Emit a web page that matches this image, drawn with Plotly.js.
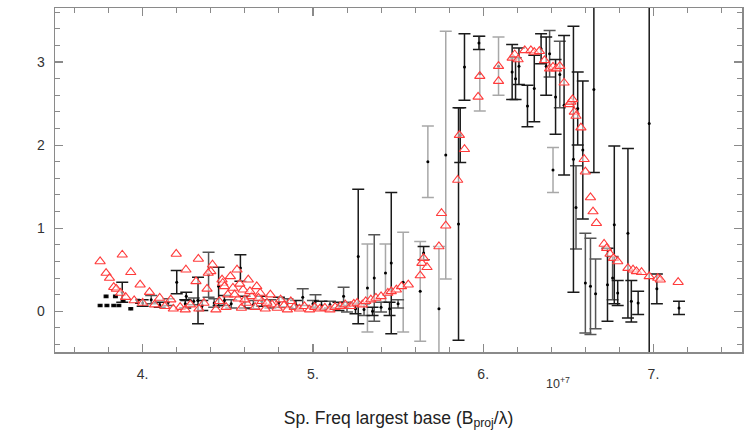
<!DOCTYPE html>
<html>
<head>
<meta charset="utf-8">
<script src="https://cdn.plot.ly/plotly-3.0.1.min.js"></script>
<style>html,body{margin:0;padding:0;background:#fff;}#chart{width:750px;height:438px;}</style>
</head>
<body>
<div id="chart"></div>
<script>
// x in units of 1e7 (B_proj/lambda)
const blackX = [3.75,3.79,3.83,3.86,3.785,3.84,3.885,3.93,3.97,
  3.88,4.20,4.256,4.325,4.387,4.446,4.574,4.94,5.015,5.18,
  4.00,4.05,4.10,4.15,4.25,4.30,4.35,4.42,4.48,4.52,4.60,4.65,4.70,4.75,4.80,4.85,4.90,5.00,5.05,5.10,5.15,5.20,5.25,5.30,5.35,5.40,5.45,5.50,
  5.266,5.32,5.36,5.426,5.46,5.53,5.63,5.65,5.675,5.74,5.78,5.855,5.865,5.89,5.975,5.98,6.09,
  6.17,6.19,6.21,6.26,6.30,6.34,6.37,6.39,6.41,6.425,6.45,6.475,6.53,6.545,6.555,6.585,6.60,6.63,6.65,6.66,
  6.73,6.76,6.77,6.79,6.85,6.87,6.91,6.975,7.02,7.15];
const blackY = [0.07,0.07,0.07,0.07,0.18,0.18,0.13,0.03,0.12,
  0.23,0.35,0.18,0.13,0.44,0.30,0.52,0.17,0.12,0.18,
  0.10,0.14,0.08,0.11,0.09,0.12,0.07,0.10,0.13,0.09,0.11,0.08,0.12,0.09,0.11,0.10,0.08,0.09,0.07,0.08,0.06,0.05,0.03,0.02,0.00,0.05,0.03,0.09,
  0.66,0.28,0.40,0.46,0.58,0.35,0.24,0.70,1.80,0.03,1.88,1.05,2.12,2.94,3.23,2.86,2.95,
  2.88,2.80,2.95,2.47,2.68,3.16,2.95,3.10,1.70,2.58,2.85,2.48,1.83,1.25,2.44,1.94,0.34,0.30,2.67,0.21,
  0.32,0.40,1.04,0.22,0.94,0.12,0.10,2.26,0.27,0.04];
const blackErr = [0.01,0.01,0.01,0.01,0.01,0.01,0.01,0.01,0.02,
  0.12,0.14,0.05,0.28,0.27,0.23,0.16,0.10,0.08,0.11,
  0.04,0.05,0.03,0.04,0.05,0.04,0.06,0.05,0.06,0.05,0.07,0.05,0.06,0.05,0.06,0.05,0.05,0.04,0.05,0.04,0.05,0.06,0.06,0.07,0.05,0.06,0.08,0.05,
  0.81,0.53,0.52,0.35,0.85,0.60,0.60,0.08,0.43,0.75,1.49,1.40,0.33,0.40,0.08,0.45,0.35,
  0.33,0.25,0.22,0.25,0.40,0.18,0.35,0.28,0.27,0.45,0.40,0.84,1.60,0.50,0.44,0.83,0.60,0.58,1.00,0.42,
  0.44,0.26,0.95,0.15,1.02,0.25,0.14,2.90,0.18,0.08];
// t = tiny (dash-like), d = dark, m = mid grey, l = light grey
const blackShade = ['t','t','t','t','t','t','t','t','t',
  'd','d','d','d','m','d','d','m','m','m',
  'd','m','d','m','d','m','d','m','d','m','d','m','d','m','d','m','d','m','d','m','d','m','d','m','d','m','d','m',
  'd','l','m','l','d','l','l','d','l','l','l','d','d','d','d','l','l',
  'd','d','d','d','d','d','d','m','l','d','m','d','d','m','d','d','m','m','d','m',
  'd','m','d','d','d','d','d','d','d','d'];

const redX = [3.75,3.785,3.805,3.83,3.845,3.88,3.87,3.93,3.90,3.985,3.95,4.04,4.00,4.10,4.07,4.165,4.13,4.197,4.254,4.22,
  4.313,4.327,4.378,4.41,4.40,4.385,4.466,4.47,4.515,4.554,4.53,4.62,4.59,4.67,4.69,4.75,4.81,4.87,
  4.18,4.25,4.28,4.33,4.36,4.43,4.45,4.49,4.50,4.56,4.58,4.61,4.64,4.66,4.70,4.72,4.76,4.79,4.83,4.85,4.89,4.92,4.95,4.98,
  5.01,5.04,5.07,5.10,5.13,5.16,5.19,5.22,5.24,4.48,4.57,4.63,4.68,4.73,4.54,4.60,
  5.26,5.29,5.31,5.34,5.37,5.40,5.44,5.46,5.49,5.52,5.56,5.63,5.64,5.65,5.67,5.74,5.755,5.78,5.85,5.86,5.89,5.97,5.98,
  6.09,6.09,6.17,6.185,6.205,6.244,6.28,6.30,6.33,6.36,6.39,6.41,6.43,6.45,6.475,6.505,6.515,6.525,6.535,6.545,6.574,
  6.593,6.60,6.63,6.645,6.665,6.71,6.725,6.745,6.765,6.79,6.85,6.88,6.90,6.93,6.975,7.025,7.04,7.145];
const redY = [0.60,0.46,0.40,0.29,0.27,0.68,0.22,0.47,0.17,0.32,0.13,0.23,0.10,0.16,0.08,0.14,0.06,0.69,0.50,0.05,
  0.36,0.63,0.27,0.56,0.48,0.46,0.38,0.34,0.42,0.50,0.28,0.38,0.26,0.30,0.22,0.20,0.14,0.12,
  0.03,0.02,0.08,0.03,0.10,0.02,0.12,0.05,0.20,0.15,0.04,0.10,0.18,0.05,0.12,0.03,0.08,0.04,0.07,0.02,0.05,0.03,0.06,0.02,
  0.05,0.03,0.04,0.02,0.05,0.06,0.08,0.06,0.09,0.30,0.33,0.24,0.16,0.10,0.20,0.14,
  0.10,0.08,0.12,0.14,0.16,0.18,0.22,0.24,0.26,0.30,0.32,0.43,0.58,0.64,0.53,0.78,1.18,1.03,1.58,2.12,1.95,2.58,2.83,
  2.77,2.95,3.05,3.09,3.03,3.14,3.14,3.12,3.13,3.02,2.92,2.94,2.92,2.95,2.75,2.49,2.52,2.55,2.40,2.35,2.21,
  1.83,1.68,1.37,1.20,1.06,0.81,0.76,0.69,0.64,0.60,0.52,0.50,0.48,0.47,0.42,0.40,0.38,0.35];

const xTickVals = [4,5,6,7];
const xTickText = ['4.','5.','6.','7.'];
const yTickVals = [0,1,2,3];
const yTickText = ['0','1','2','3'];

const shadeColors = {t:'#111111', d:'#1a1a1a', m:'#555555', l:'#a8a8a8'};
const capWidth = {t:2.5, d:6, m:6, l:6};
const traces = [];
['l','m','d','t'].forEach(s => {
  const xs=[], ys=[], es=[];
  blackShade.forEach((v,i)=>{ if(v===s){ xs.push(blackX[i]); ys.push(blackY[i]); es.push(blackErr[i]); }});
  traces.push({
    type:'scatter', mode:'markers', x:xs, y:ys,
    marker:{size:3, color:'#000'},
    error_y:{type:'data', array:es, visible:true, color:shadeColors[s], thickness:s==='t'?2:1.5, width:capWidth[s]},
    hoverinfo:'skip', showlegend:false
  });
});
traces.push({
  type:'scatter', mode:'markers', x:redX, y:redY,
  marker:{symbol:'triangle-up', size:9, color:'rgba(255,255,255,0.55)', line:{color:'#ff3b3b', width:1.1}},
  hoverinfo:'skip', showlegend:false
});

const FONT = 'Liberation Sans, Arial, Helvetica, sans-serif';
const axisCommon = {
  showline:true, linecolor:'#8a8a8a', linewidth:1.5, mirror:'allticks',
  ticks:'inside', ticklen:8, tickwidth:1.2, tickcolor:'#8a8a8a',
  showgrid:false, zeroline:false, automargin:false,
  tickfont:{family:FONT, size:14, color:'#333'}
};
const layout = {
  width:750, height:438,
  margin:{l:55, r:8, t:8, b:86},
  paper_bgcolor:'#fff', plot_bgcolor:'#fff',
  xaxis: Object.assign({}, axisCommon, {
    range:[3.485,7.52], tickmode:'array', tickvals:xTickVals, ticktext:xTickText,
    ticklabelstandoff:9,
    minor:{dtick:0.2, ticks:'inside', ticklen:5, tickcolor:'#8a8a8a', tickwidth:1},
    title:{text:'Sp. Freq largest base (B<sub>proj</sub>/λ)', standoff:30,
      font:{family:FONT, size:17.5, color:'#222'}}
  }),
  yaxis: Object.assign({}, axisCommon, {
    range:[-0.49,3.65], tickmode:'array', tickvals:yTickVals, ticktext:yTickText,
    ticklabelstandoff:6,
    minor:{dtick:0.2, ticks:'inside', ticklen:5, tickcolor:'#8a8a8a', tickwidth:1}
  }),
  annotations:[{
    xref:'paper', yref:'paper', x:0.752, y:-0.12, showarrow:false,
    text:'10<sup>+7</sup>', font:{family:FONT, size:12.5, color:'#333'}
  }]
};
Plotly.newPlot('chart', traces, layout, {staticPlot:true, displayModeBar:false});
</script>
</body>
</html>
